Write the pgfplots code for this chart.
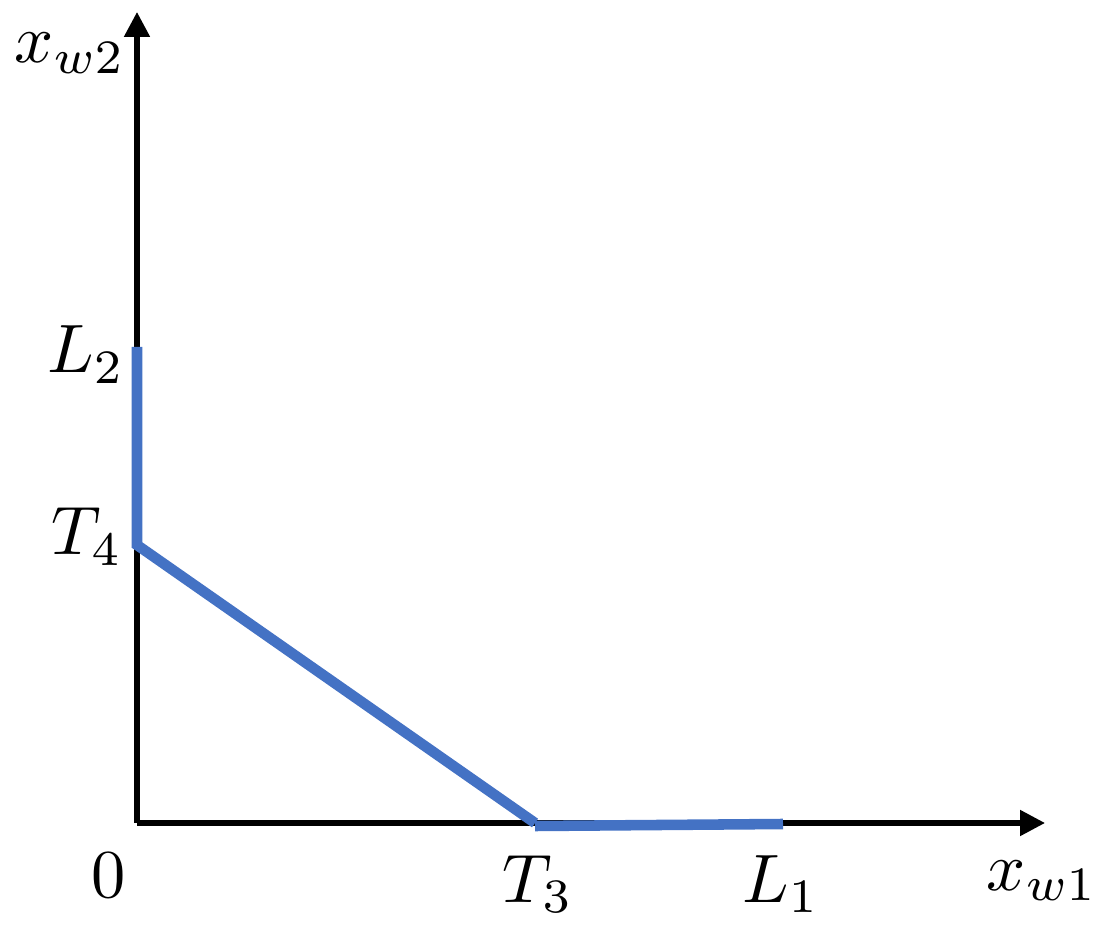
\documentclass[border=0pt]{standalone}
\usepackage{graphicx}
\usepackage{pgfplots}
\pgfplotsset{compat=1.18}
\usetikzlibrary{arrows.meta}
\definecolor{lineblue}{HTML}{4472C4}
\tikzset{lab/.style={anchor=base, inner sep=0pt}}
\newcommand{\biglab}[1]{\scalebox{1.95}{$#1$}}
\begin{document}
\begin{tikzpicture}
\begin{axis}[
  scale only axis,
  width=9.08cm, height=8.11cm,
  xmin=0, xmax=908, ymin=0, ymax=811,
  enlargelimits=false,
  axis lines=left,
  axis line style={line width=1.45pt, -{Triangle[length=0.25cm,width=0.25cm]}},
  xtick=\empty, ytick=\empty,
  clip=false,
]
\path (axis cs:-137,-112) rectangle (axis cs:971,823);
\addplot[lineblue, line width=3pt, line cap=butt] coordinates {(0,476) (0,278) (398,0)};
\addplot[lineblue, line width=3pt, line cap=butt] coordinates {(398,-3) (646,-1)};
\node[lab] at (axis cs:-51,450) {\biglab{L_2}};
\node[lab] at (axis cs:-50,268) {\biglab{T_4}};
\node[lab] at (axis cs:-28,-74) {\biglab{0}};
\node[lab] at (axis cs:401,-79) {\biglab{T_3}};
\node[lab] at (axis cs:644,-79) {\biglab{L_1}};
\node[lab] at (axis cs:905,-67) {\biglab{x_{w1}}};
\node[lab] at (axis cs:-67,760) {\biglab{x_{w2}}};
\end{axis}
\end{tikzpicture}
\end{document}
